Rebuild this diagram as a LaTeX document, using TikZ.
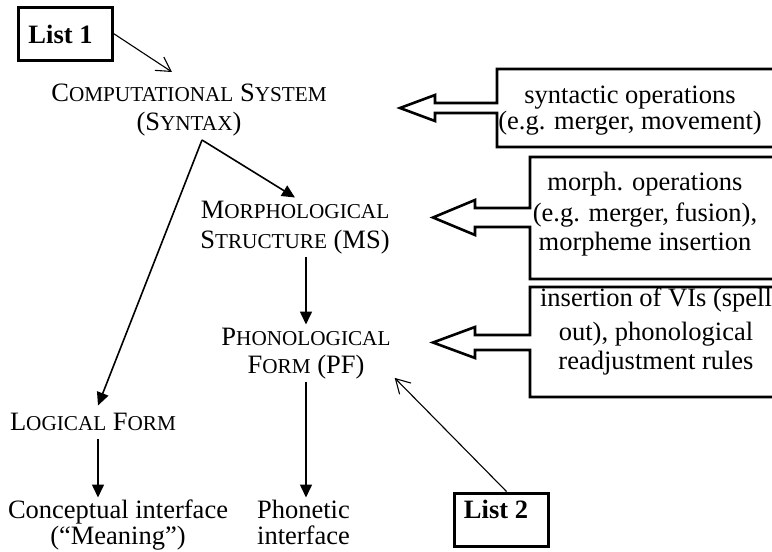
\documentclass[tikz,border=0pt]{standalone}
\usepackage{fontspec}
\setmainfont{Liberation Serif}
\usetikzlibrary{arrows.meta,calc}
\newcommand\sk[2]{#1{\fontsize{21.2}{29}\selectfont #2}}
\newcommand\ml[1]{\begin{tabular}[t]{@{}c@{}}#1\end{tabular}}
\begin{document}
\begin{tikzpicture}[x=1pt,y=-1pt,
  every node/.style={inner sep=0pt, font=\fontsize{26.5}{29}\selectfont},
  txt/.style={anchor=base},
  arr/.style={line width=1.6pt, -{Triangle[length=13pt,width=12pt]}},
  lst/.style={line width=1.1pt, -{Straight Barb[length=14pt,width=16pt]}},
  blk/.style={line width=2.6pt, line join=miter},
  listbox/.style={draw, line width=3pt, minimum width=94pt, minimum height=53pt}]
\useasboundingbox (0,0) rectangle (772,552);
\clip (0,0) rectangle (772,552);

% List boxes
\node[listbox] (list1) at (65,33.5) {};
\node[txt] (list1t) at (60.5,43) {\textbf{List 1}};
\node[listbox] (list2) at (501.5,519.5) {};
\node[txt] (list2t) at (496,518) {\textbf{List 2}};

% main text nodes
\node[txt] (syntax) at (189,101) {\ml{\sk{C}{OMPUTATIONAL} \sk{S}{YSTEM}\\(\sk{S}{YNTAX})}};
\node[txt] (ms) at (295,218) {\ml{\sk{M}{ORPHOLOGICAL}\\[1pt]\sk{S}{TRUCTURE} (MS)}};
\node[txt] (pf) at (306,345) {\ml{\sk{P}{HONOLOGICAL}\\[-1pt]\sk{F}{ORM} (PF)}};
\node[txt] (lf) at (93,430) {\ml{\sk{L}{OGICAL} \sk{F}{ORM}}};
\node[txt] (concept) at (118,518) {\ml{Conceptual interface\\[-3pt](“Meaning”)}};
\node[txt] (phon) at (303.5,518) {\ml{Phonetic\\[-3pt]interface}};

% side boxes with block arrows
\draw[blk] (800,69) -- (497,69) -- (497,103) -- (435,103) -- (435,95) -- (400,108)
  -- (435,121) -- (435,113) -- (497,113) -- (497,147) -- (800,147);
\draw[blk] (800,157) -- (530,157) -- (530,208) -- (475,208) -- (475,200) -- (433,217.5)
  -- (475,235) -- (475,227) -- (530,227) -- (530,279) -- (800,279);
\draw[blk] (800,287) -- (530,287) -- (530,335) -- (475,335) -- (475,327) -- (433,342.5)
  -- (475,358) -- (475,350) -- (530,350) -- (530,397) -- (800,397);

\node[txt] (ops1) at (630,103) {\ml{syntactic operations\\[-3pt](e.g. merger, movement)}};
\node[txt] (ops2) at (645,190) {\ml{morph. operations\\[2pt](e.g. merger, fusion),\\morpheme insertion}};
\node[txt] (ops3) at (656,306) {\ml{insertion of VIs (spell\\[5pt]out), phonological\\readjustment rules}};

% connectors
\coordinate (csin) at (172,72);
\coordinate (split) at (202,140);
\draw[lst] (list1.east) -- (csin);
\draw[arr] (split) -- (ms.north);
\draw[arr] (split) -- ([xshift=5pt,yshift=4pt]lf.north);
\draw[arr] (pf.north |- ms.south) -- (pf.north);
\draw[arr] (pf.south) -- (pf.south |- phon.north);
\draw[arr] ([xshift=5pt]lf.south) -- ([xshift=5pt]lf.south |- concept.north);
\draw[lst] ([xshift=5pt]list2.north) -- ([xshift=4pt,yshift=4pt]pf.south east);
\end{tikzpicture}
\end{document}
